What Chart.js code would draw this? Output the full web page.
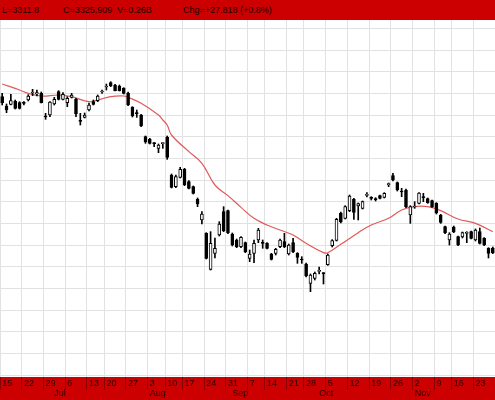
<!DOCTYPE html>
<html>
<head>
<meta charset="utf-8">
<script src="https://cdn.jsdelivr.net/npm/chart.js@4"></script>
<style>
    body { margin: 0; background: #fff; }
    #header { position: relative; width: 495px; height: 20px; background: #cc0000; font: 9px "Liberation Sans", Arial, sans-serif; color: #1a0000; }
    #header span { position: absolute; top: 5px; white-space: nowrap; }
    #wrap { position: relative; width: 495px; height: 380px; }
</style>
</head>
<body>
<div id="header">
    <span style="left:2px">L=3311.8</span>
    <span style="left:63px">C=3325.909</span>
    <span style="left:117px">V=0.26B</span>
    <span style="left:183px">Chg=+27.818 (+0.8%)</span>
</div>
<div id="wrap"><canvas id="myChart"></canvas></div>
<script>
// trading days shown on the chart
var tradingDays = [
    '2015-06-15','2015-06-16','2015-06-17','2015-06-18','2015-06-19','2015-06-22','2015-06-23','2015-06-24','2015-06-25','2015-06-26',
    '2015-06-29','2015-06-30','2015-07-01','2015-07-02','2015-07-03','2015-07-06','2015-07-07','2015-07-08','2015-07-09','2015-07-10',
    '2015-07-13','2015-07-14','2015-07-15','2015-07-16','2015-07-20','2015-07-21','2015-07-22','2015-07-23','2015-07-24','2015-07-27',
    '2015-07-28','2015-07-29','2015-07-30','2015-07-31','2015-08-03','2015-08-04','2015-08-05','2015-08-06','2015-08-11','2015-08-12',
    '2015-08-13','2015-08-14','2015-08-17','2015-08-18','2015-08-19','2015-08-20','2015-08-21','2015-08-24','2015-08-25','2015-08-26',
    '2015-08-27','2015-08-28','2015-08-31','2015-09-01','2015-09-02','2015-09-03','2015-09-04','2015-09-07','2015-09-08','2015-09-09',
    '2015-09-10','2015-09-14','2015-09-15','2015-09-16','2015-09-17','2015-09-18','2015-09-21','2015-09-22','2015-09-23','2015-09-25',
    '2015-09-28','2015-09-29','2015-09-30','2015-10-01','2015-10-02','2015-10-05','2015-10-06','2015-10-07','2015-10-08','2015-10-09',
    '2015-10-12','2015-10-13','2015-10-14','2015-10-15','2015-10-16','2015-10-19','2015-10-20','2015-10-21','2015-10-22','2015-10-23',
    '2015-10-26','2015-10-27','2015-10-28','2015-10-29','2015-10-30','2015-11-02','2015-11-03','2015-11-04','2015-11-05','2015-11-06',
    '2015-11-09','2015-11-11','2015-11-12','2015-11-13','2015-11-16','2015-11-17','2015-11-18','2015-11-19','2015-11-20','2015-11-23',
    '2015-11-24','2015-11-25','2015-11-26','2015-11-27'
];

var openPrices = [
    3325,3297,3302,3311,3307,3306,3315,3336,3333,3335, 3267,3270,3303,3340,3317,3307,3323,3317,3253,3263,
    3285,3310,3313,3339,3354,3367,3360,3357,3350,3335, 3293,3276,3270,3205,3197,3185,3170,3184,3203,3090,
    3055,3083,3107,3070,3055,3017,2955,2915,2807,2855, 2910,2980,2983,2913,2895,2875,2887,2840,2855,2895,
    2886,2885,2853,2855,2875,2890,2853,2887,2855,2836, 2823,2765,2780,2801,2796,2821,2878,2894,2976,2960,
    2983,3017,2997,2990,3029,3021,3017,3028,3023,3061, 3088,3067,3040,3045,2970,2994,3005,3023,3019,3013,
    3006,2970,2935,2895,2934,2905,2904,2915,2920,2895, 2920,2900,2870,2871
];
var highPrices = [
    3335,3303,3332,3315,3310,3310,3331,3347,3345,3339, 3275,3310,3323,3343,3337,3325,3335,3320,3275,3276,
    3306,3315,3330,3345,3363,3370,3362,3360,3352,3339, 3295,3285,3272,3207,3200,3187,3183,3187,3207,3093,
    3090,3113,3110,3073,3057,3021,2980,2917,2920,2901, 2950,2995,2985,2916,2898,2905,2889,2865,2895,2930,
    2895,2887,2855,2870,2898,2915,2883,2900,2857,2845, 2826,2793,2799,2814,2797,2853,2896,2960,2979,2998,
    3030,3020,3006,3012,3037,3025,3022,3030,3037,3066, 3095,3069,3050,3048,2998,3010,3037,3035,3021,3015,
    3007,2972,2937,2917,2937,2907,2919,2920,2922,2928, 2931,2902,2872,2874
];
var lowPrices = [
    3300,3277,3300,3288,3288,3300,3312,3328,3327,3306, 3257,3265,3300,3315,3315,3295,3321,3265,3240,3261,
    3282,3300,3310,3335,3345,3355,3342,3342,3333,3298, 3264,3263,3235,3185,3183,3175,3157,3170,3137,3051,
    3052,3081,3058,3048,3033,2995,2943,2838,2805,2841, 2907,2920,2914,2877,2872,2872,2857,2830,2827,2887,
    2870,2868,2835,2850,2872,2872,2850,2857,2825,2825, 2784,2740,2775,2793,2763,2819,2874,2892,2946,2958,
    2980,2957,2955,2988,3024,3015,3012,3018,3021,3055, 3072,3042,3025,2992,2945,2990,3003,3010,3005,2993,
    2973,2945,2914,2880,2917,2878,2901,2887,2898,2892, 2883,2878,2841,2854
];
var closePrices = [
    3307,3285,3313,3290,3290,3305,3327,3338,3337,3307, 3264,3309,3317,3317,3332,3320,3330,3273,3251,3270,
    3300,3302,3327,3340,3356,3357,3343,3343,3335,3300, 3267,3274,3237,3189,3185,3184,3180,3185,3143,3053,
    3085,3107,3060,3050,3035,3003,2973,2840,2885,2870, 2943,2923,2917,2880,2875,2903,2860,2853,2885,2925,
    2885,2870,2837,2867,2895,2875,2880,2860,2843,2835, 2787,2790,2795,2802,2794,2850,2893,2957,2949,2995,
    3027,2978,3004,3010,3030,3020,3016,3020,3035,3062, 3075,3045,3039,2995,2995,2995,3036,3022,3007,2995,
    2976,2948,2917,2913,2919,2880,2917,2916,2900,2925, 2885,2880,2855,2856
];

// moving average, read where the curve is clear (gaps are spanned)
var movingAvg = [
    3363,null,null,null,3345,null,3335,null,null,3327, null,null,null,3330,null,null,3325,null,null,null,
    3310,null,3315,null,null,3325,null,null,3327,3323, null,null,3305,null,null,null,3270,3255,3240,3210,
    null,null,null,3160,null,null,3125,null,null,3060, null,null,3028,null,null,2993,null,null,2960,null,
    null,2940,null,null,2925,null,null,2910,null,null, 2885,null,null,null,2857,2857,null,null,2882,null,
    null,null,2917,null,null,2940,null,null,null,2960, null,null,2985,null,null,2995,null,null,2995,null,
    null,2983,null,null,null,2958,null,null,null,2945, null,null,null,2920
];

var weekTicks = ['15','22','29','6','13','20','27','3','10','17','24','31','7','14','21','28','5','12','19','26','2','9','16','23'];
var monthTicks = ['Jul','Aug','Sep','Oct','Nov'];

var gridStep = 65;
var gridBase = 3400;
var yMin = 2484;
var yMax = 3555;

var weekLabel = {};
var monthLabel = {};
var w = 0, m = 0;
tradingDays.forEach(function (d, i) {
    var cur = new Date(d);
    if (i === 0) { weekLabel[i] = weekTicks[w++]; return; }
    var prev = new Date(tradingDays[i - 1]);
    if (cur.getUTCDay() <= prev.getUTCDay() || (cur - prev) > 4 * 86400000) weekLabel[i] = weekTicks[w++];
    if (cur.getUTCMonth() !== prev.getUTCMonth()) monthLabel[i] = monthTicks[m++];
});

var bodies = [], wicks = [], bodyColors = [];
for (var i = 0; i < tradingDays.length; i++) {
    bodies.push([openPrices[i], closePrices[i]]);
    wicks.push([lowPrices[i], highPrices[i]]);
    bodyColors.push(closePrices[i] >= openPrices[i] ? '#ffffff' : '#000000');
}

var redPanels = {
    id: 'redPanels',
    beforeDraw: function (chart) {
        var c = chart.ctx, a = chart.chartArea;
        c.save();
        c.fillStyle = '#ffffff';
        c.fillRect(0, 0, chart.width, a.bottom);
        c.fillStyle = '#cc0000';
        c.fillRect(0, a.bottom, chart.width, chart.height - a.bottom);
        c.restore();
    }
};

document.addEventListener('DOMContentLoaded', function () {
    var ctx = document.getElementById('myChart');

    new Chart(ctx, {
        type: 'bar',
        plugins: [redPanels],
        data: {
            labels: tradingDays,
            datasets: [{
                label: 'Body',
                data: bodies,
                backgroundColor: bodyColors,
                borderColor: '#000000',
                borderWidth: 1,
                borderSkipped: false,
                barThickness: 3,
                minBarLength: 1,
                grouped: false,
                order: 0
            }, {
                label: 'Wick',
                data: wicks,
                backgroundColor: '#000000',
                barThickness: 1,
                grouped: false,
                order: 1
            }, {
                type: 'line',
                label: 'MA',
                data: movingAvg,
                borderColor: '#e05a5a',
                borderWidth: 1.2,
                pointRadius: 0,
                spanGaps: true,
                tension: 0.4,
                order: 2
            }]
        },
        options: {
            responsive: true,
            maintainAspectRatio: false,
            animation: false,
            layout: { padding: 0 },
            plugins: {
                legend: { display: false },
                tooltip: { enabled: false }
            },
            scales: {
                x: {
                    offset: true,
                    border: { display: false },
                    grid: {
                        offset: true,
                        tickLength: 13,
                        color: function (c) { return weekLabel[c.index] ? '#e2e2e2' : 'rgba(0,0,0,0)'; },
                        tickColor: function (c) { return weekLabel[c.index] ? 'rgba(90,0,0,0.55)' : 'rgba(0,0,0,0)'; }
                    },
                    ticks: {
                        autoSkip: false,
                        maxRotation: 0,
                        align: 'start',
                        padding: -12,
                        color: '#2a0000',
                        font: { family: 'Liberation Sans', size: 9, lineHeight: 1.15 },
                        callback: function (value, index) {
                            var wk = weekLabel[index], mo = monthLabel[index];
                            if (!wk && !mo) return '';
                            return [wk || '', mo || ''];
                        }
                    },
                    afterFit: function (s) { s.height = 23; }
                },
                y: {
                    position: 'right',
                    min: yMin,
                    max: yMax,
                    border: { display: false },
                    grid: { color: '#e2e2e2', drawTicks: false },
                    ticks: { display: false },
                    afterBuildTicks: function (s) {
                        var t = [];
                        for (var v = gridBase - gridStep * 20; v <= yMax; v += gridStep) {
                            if (v > yMin) t.push({ value: v });
                        }
                        s.ticks = t;
                    },
                    afterFit: function (s) { s.width = 0; }
                }
            }
        }
    });
});
</script>
</body>
</html>
